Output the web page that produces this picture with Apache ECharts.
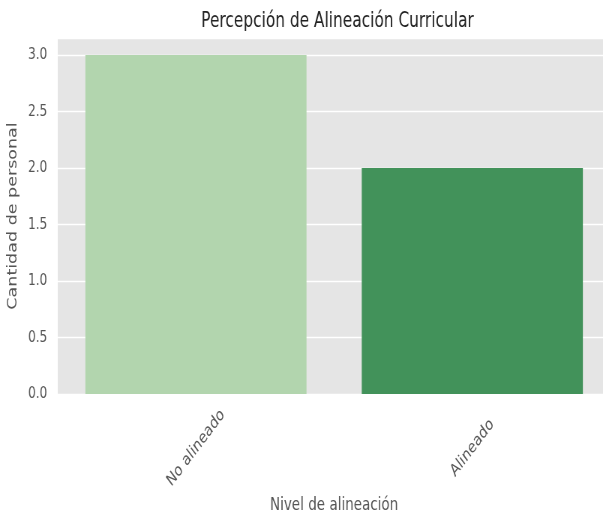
<!DOCTYPE html>
<html><head><meta charset="utf-8">
<script src="https://cdn.jsdelivr.net/npm/echarts@6/dist/echarts.min.js"></script>
<style>
html,body{margin:0;padding:0;background:#fff;overflow:hidden;width:603px;height:513px}
#c{width:804px;height:513px;transform:scaleX(0.75);transform-origin:0 0}
</style>
</head><body><div id="c"></div>
<script>
const categories = ["No alineado", "Alineado"];
const values = [3, 2];
const barColors = ["#b2d5ae", "#42925a"];
const yTicks = [0, 0.5, 1.0, 1.5, 2.0, 2.5, 3.0];
const ff = "DejaVu Sans, sans-serif";
const chart = echarts.init(document.getElementById('c'));
chart.setOption({
  backgroundColor: '#ffffff',
  animation: false,
  title: {
    text: 'Percepción de Alineación Curricular',
    left: 445, top: 6, textAlign: 'center',
    textStyle: { fontFamily: ff, fontSize: 20.5, fontWeight: 'normal', color: '#222' }
  },
  grid: { left: 77, right: -10, top: 38, bottom: 119, show: true, backgroundColor: '#e5e5e5', borderWidth: 0,
          containLabel: false, outerBoundsMode: 'none' },
  xAxis: {
    type: 'category', data: categories,
    axisLine: { show: false }, axisTick: { show: false },
    axisLabel: { rotate: 45, align: 'center', verticalAlign: 'middle', fontFamily: ff, fontSize: 17, color: '#555', margin: 54 },
    name: 'Nivel de alineación', nameLocation: 'middle', nameGap: 95,
    nameTextStyle: { fontFamily: ff, fontSize: 18, color: '#555' }
  },
  yAxis: {
    type: 'value', min: 0, max: 3.15, interval: 0.5,
    axisLine: { show: false }, axisTick: { show: false },
    splitLine: { lineStyle: { color: '#ffffff', width: 1.3 } },
    axisLabel: {
      fontFamily: ff, fontSize: 16, color: '#555', margin: 14,
      formatter: v => yTicks.includes(v) ? v.toFixed(1) : ''
    },
    name: 'Cantidad de personal', nameLocation: 'middle', nameGap: 43,
    nameTextStyle: { fontFamily: ff, fontSize: 17.5, color: '#555' }
  },
  series: [{
    type: 'bar', barWidth: '80%',
    data: values.map((v, i) => ({ value: v, itemStyle: { color: barColors[i] } }))
  }]
});
</script></body></html>
